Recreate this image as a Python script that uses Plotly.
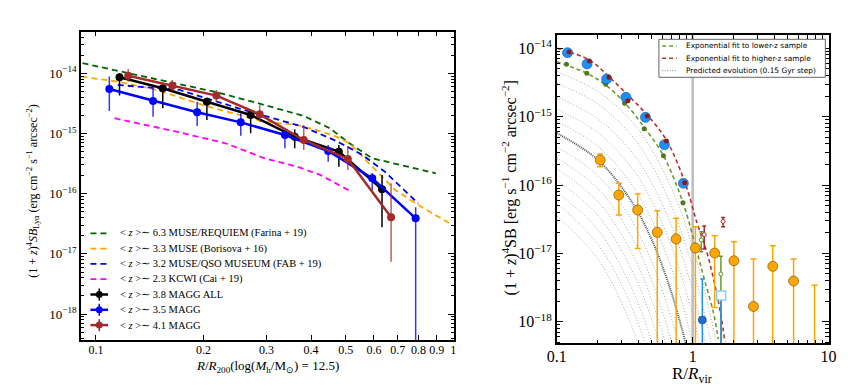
import plotly.graph_objects as go

# the page body adds an 8px margin, so the figure is drawn 8px smaller and shifted
OFF = 8
W, H = 863 - OFF, 388 - OFF

# ---------------- left panel: Lya SB profiles vs R/R200 ----------------
farina_r = [0.0917, 0.1151, 0.2204, 0.2965, 0.3816, 0.4515, 0.5124, 0.5934, 0.7171, 0.894]
farina_sb = [1.47e-14, 1.09e-14, 4.76e-15, 2.97e-15, 1.95e-15, 1.22e-15, 6.87e-16, 3.87e-16, 3.00e-16, 2.18e-16]

borisova_r = [0.0911, 0.1151, 0.1482, 0.2031, 0.2965, 0.366, 0.415, 0.471, 0.5124, 0.557, 0.619, 0.688, 0.813, 0.995]
borisova_sb = [8.78e-15, 7.25e-15, 5.28e-15, 2.86e-15, 1.57e-15, 1.38e-15, 1.14e-15, 8.85e-16, 6.87e-16,
               4.12e-16, 2.18e-16, 1.15e-16, 6.08e-17, 3.02e-17]

fab_r = [0.1151, 0.1715, 0.2505, 0.3816, 0.471, 0.557, 0.645, 0.797]
fab_sb = [6.39e-15, 5.28e-15, 2.62e-15, 1.28e-15, 7.50e-16, 4.40e-16, 2.29e-16, 6.92e-17]

cai_r = [0.1127, 0.168, 0.2304, 0.2965, 0.366, 0.424, 0.5124]
cai_sb = [1.79e-15, 1.07e-15, 6.87e-16, 3.87e-16, 2.81e-16, 2.05e-16, 1.12e-16]

magg_all_r = [0.1164, 0.1538, 0.2044, 0.271, 0.360, 0.4786, 0.632]
magg_all_sb = [8.59e-15, 5.64e-15, 3.37e-15, 2.03e-15, 8.85e-16, 4.99e-16, 1.18e-16]
magg_all_hi = [1.0e-14, 6.3e-15, 3.85e-15, 2.30e-15, 1.17e-15, 6.44e-16, 2.05e-16]
magg_all_lo = [4.25e-15, 2.62e-15, 1.67e-15, 1.01e-15, 5.68e-16, 2.81e-16, 2.77e-17]

magg_lo_r = [0.109, 0.1445, 0.192, 0.2543, 0.338, 0.4467, 0.5934, 0.785]
magg_lo_sb = [5.48e-15, 3.47e-15, 2.25e-15, 1.53e-15, 9.44e-16, 5.12e-16, 1.80e-16, 3.90e-17]
magg_lo_hi = [8.79e-15, 5.64e-15, 3.37e-15, 2.17e-15, 1.14e-15, 6.44e-16, 2.21e-16, 5.94e-17]
magg_lo_lo = [2.37e-15, 1.90e-15, 1.33e-15, 9.19e-16, 5.68e-16, 3.40e-16, 1.15e-16, 0.0]

magg_hi_r = [0.1231, 0.1636, 0.2173, 0.2873, 0.3816, 0.507, 0.670]
magg_hi_sb = [9.12e-15, 6.22e-15, 4.25e-15, 2.08e-15, 7.80e-16, 3.77e-16, 4.06e-17]
magg_hi_hi = [1.18e-14, 7.74e-15, 5.28e-15, 2.97e-15, 1.38e-15, 6.19e-16, 1.49e-16]
magg_hi_lo = [7.25e-15, 5.08e-15, 3.37e-15, 1.57e-15, 5.32e-16, 2.48e-16, 7.41e-18]

left_labels = [
    "< <i>z</i> >∼ 6.3 MUSE/REQUIEM (Farina + 19)",
    "< <i>z</i> >∼ 3.3 MUSE (Borisova + 16)",
    "< <i>z</i> >∼ 3.2 MUSE/QSO MUSEUM (FAB + 19)",
    "< <i>z</i> >∼ 2.3 KCWI (Cai + 19)",
    "< <i>z</i> >∼ 3.8 MAGG ALL",
    "< <i>z</i> >∼ 3.5 MAGG",
    "< <i>z</i> >∼ 4.1 MAGG",
]
left_xticks = [0.1, 0.2, 0.3, 0.4, 0.5, 0.6, 0.7, 0.8, 0.9, 1.0]
left_xtick_text = ["0.1", "0.2", "0.3", "0.4", "0.5", "0.6", "0.7", "0.8", "0.9", "1"]

# ---------------- right panel: SB vs R/Rvir ----------------
stack_r = [0.1200, 0.1672, 0.2330, 0.3229, 0.4498, 0.6197, 0.855]
stack_sb = [8.62e-15, 5.89e-15, 3.56e-15, 1.92e-15, 9.77e-16, 3.89e-16, 1.06e-16]

hiz_r = [0.1234, 0.1739, 0.2424, 0.334, 0.463, 0.6408, 0.8735]
hiz_sb = [8.83e-15, 6.52e-15, 3.77e-15, 1.71e-15, 1.02e-15, 4.41e-16, 1.08e-16]

loz_r = [0.118, 0.1665, 0.2291, 0.3161, 0.4403, 0.6095, 0.849]
loz_sb = [5.83e-15, 4.31e-15, 2.97e-15, 1.57e-15, 6.67e-16, 2.69e-16, 5.51e-17]

green_fit_r = [0.1, 0.1665, 0.2291, 0.3161, 0.4403, 0.6095, 0.849, 1.079, 1.217, 1.421, 1.543]
green_fit_sb = [6.37e-15, 4.31e-15, 2.90e-15, 1.60e-15, 6.98e-16, 2.69e-16, 5.51e-17, 1.03e-17,
                4.21e-18, 1.37e-18, 5.57e-19]
red_fit_r = [0.1, 0.1739, 0.2424, 0.334, 0.4705, 0.6408, 0.8735, 1.079, 1.273, 1.461, 1.633, 1.725]
red_fit_sb = [1.0e-14, 6.75e-15, 3.84e-15, 2.07e-15, 1.02e-15, 4.55e-16, 1.12e-16, 2.75e-17,
              1.03e-17, 3.37e-18, 1.09e-18, 5.04e-19]

# predicted evolution curves, log10 SB read at these radii
evo_r = [0.1, 0.2, 0.35, 0.5, 0.7, 0.9, 1.1, 1.3, 1.5, 1.7]
evo_logsb = [
    [-14.34, -14.63, -15.05, -15.48, -16.05, -16.62, -17.19, -17.76, -18.33, -18.90],
    [-14.51, -14.81, -15.26, -15.71, -16.31, -16.91, -17.51, -18.11, -18.71],
    [-14.71, -15.03, -15.50, -15.97, -16.60, -17.23, -17.86, -18.49],
    [-14.89, -15.23, -15.73, -16.23, -16.90, -17.57, -18.24, -18.91],
    [-15.07, -15.43, -15.97, -16.51, -17.23, -17.95, -18.67],
    [-15.24, -15.63, -16.22, -16.80, -17.58, -18.36],
    [-15.44, -15.86, -16.49, -17.12, -17.96, -18.80],
    [-15.60, -16.05, -16.73, -17.40, -18.30, -19.20],
    [-15.76, -16.24, -16.96, -17.68, -18.64],
    [-15.93, -16.44, -17.21, -17.97, -18.99],
    [-16.10, -16.65, -17.48, -18.30, -19.40],
    [-16.27, -16.86, -17.75, -18.63],
    [-16.45, -17.08, -18.03, -18.97],
]
evo_dark = 5

cgm_r = [0.2088, 0.2862, 0.394, 0.549, 0.756, 1.048, 1.453, 2.012, 2.804, 3.886, 5.53, 7.89]
cgm_sb = [2.32e-16, 7.14e-17, 4.31e-17, 2.03e-17, 1.62e-17, 1.20e-17, 1.01e-17, 7.80e-18,
          1.67e-18, 6.45e-18, 3.94e-18, 1e-20]
cgm_hi = [2.84e-16, 1.06e-16, 7.38e-17, 4.21e-17, 3.26e-17, 2.45e-17, 1.81e-17, 1.48e-17,
          8.26e-18, 1.29e-17, 8.26e-18, 3.42e-18]
cgm_lo = [1.85e-16, 3.64e-17, 1.18e-17, 0, 0, 0, 1.62e-18, 0, 0, 0, 0, 0]

out_green_r = [1.158, 1.614]
out_green_sb = [1.57e-17, 4.99e-18]
out_green_hi = [2.07e-17, 9.04e-18]
out_green_lo = [1.06e-17, 0]
out_red_r = [1.217, 1.676]
out_red_sb = [1.88e-17, 2.93e-17]
out_red_hi = [2.51e-17, 3.36e-17]
out_red_lo = [1.16e-17, 2.45e-17]
out_blue_r = [1.178]
out_blue_sb = [1.06e-18]
out_blue_hi = [4.22e-18]
out_blue_lo = [0]
out_sq_r = [1.62]
out_sq_sb = [2.42e-18]

right_legend = [
    ("Exponential fit to lower-z sample", "#6b9a2a", "4px,3px"),
    ("Exponential fit to higher-z sample", "#b8312f", "4px,3px"),
    ("Predicted evolution (0.15 Gyr step)", "#999999", "1px,1.5px"),
]


def err(sb, hi, lo):
    plus = [h - s for s, h in zip(sb, hi)]
    minus = [s - l for s, l in zip(sb, lo)]
    return dict(type="data", symmetric=False, array=plus, arrayminus=minus)


# window pixel -> paper fraction
def px(x):
    return (x - OFF) / W


def py(y):
    return 1 - (y - OFF) / H


fig = go.Figure()

# left dashed literature profiles
for r, sb, col in [(farina_r, farina_sb, "#006400"), (borisova_r, borisova_sb, "#ffa500"),
                   (fab_r, fab_sb, "#0000ff"), (cai_r, cai_sb, "#ff00ff")]:
    fig.add_trace(go.Scatter(x=r, y=sb, mode="lines", xaxis="x", yaxis="y",
                             line=dict(color=col, width=1.8, dash="6px,4px")))

for r, sb, hi, lo, col, ecol in [
    (magg_all_r, magg_all_sb, magg_all_hi, magg_all_lo, "#000000", "#000000"),
    (magg_lo_r, magg_lo_sb, magg_lo_hi, magg_lo_lo, "#0000ff", "rgba(0,0,255,0.8)"),
    (magg_hi_r, magg_hi_sb, magg_hi_hi, magg_hi_lo, "#a52a2a", "rgba(165,42,42,0.75)"),
]:
    e = err(sb, hi, lo)
    e.update(color=ecol, thickness=1.5, width=0)
    fig.add_trace(go.Scatter(x=r, y=sb, mode="lines+markers", xaxis="x", yaxis="y",
                             line=dict(color=col, width=2.5), marker=dict(color=col, size=8),
                             error_y=e))

# right panel
for i, curve in enumerate(evo_logsb):
    dark = i == evo_dark
    fig.add_trace(go.Scatter(x=evo_r[:len(curve)], y=[10 ** v for v in curve], mode="lines",
                             xaxis="x2", yaxis="y2", line_shape="spline",
                             line=dict(color="#555555" if dark else "#a8a8a8",
                                       width=2 if dark else 1,
                                       dash="1px,1px" if dark else "1px,2px")))

fig.add_trace(go.Scatter(x=[1, 1], y=[1e-19, 1e-13], mode="lines", xaxis="x2", yaxis="y2",
                         line=dict(color="#bdbdbd", width=2.5)))

fig.add_trace(go.Scatter(x=green_fit_r, y=green_fit_sb, mode="lines", xaxis="x2", yaxis="y2",
                         line_shape="spline", line=dict(color="#6b9a2a", width=1.6, dash="4px,3px")))
fig.add_trace(go.Scatter(x=red_fit_r, y=red_fit_sb, mode="lines", xaxis="x2", yaxis="y2",
                         line_shape="spline", line=dict(color="#b8312f", width=1.6, dash="4px,3px")))

fig.add_trace(go.Scatter(x=loz_r, y=loz_sb, mode="markers", xaxis="x2", yaxis="y2",
                         marker=dict(color="#4f7a1f", size=5)))
fig.add_trace(go.Scatter(x=stack_r, y=stack_sb, mode="markers", xaxis="x2", yaxis="y2",
                         marker=dict(color="#1e8fff", size=10, line=dict(color="#1a4f8a", width=0.6))))
fig.add_trace(go.Scatter(x=hiz_r, y=hiz_sb, mode="markers", xaxis="x2", yaxis="y2",
                         marker=dict(color="#8b1a1a", size=5)))

e = err(cgm_sb, cgm_hi, cgm_lo)
e.update(color="#ffa500", thickness=1.5, width=3)
fig.add_trace(go.Scatter(x=cgm_r, y=cgm_sb, mode="markers", xaxis="x2", yaxis="y2",
                         marker=dict(color="#ffa500", size=10, line=dict(color="#6b4a00", width=0.6)),
                         error_y=e))

e = err(out_green_sb, out_green_hi, out_green_lo)
e.update(color="#6b9a2a", thickness=1.5, width=2)
fig.add_trace(go.Scatter(x=out_green_r, y=out_green_sb, mode="markers", xaxis="x2", yaxis="y2",
                         marker=dict(color="white", size=4, line=dict(color="#6b9a2a", width=1)),
                         error_y=e))
e = err(out_red_sb, out_red_hi, out_red_lo)
e.update(color="#a52a2a", thickness=1.5, width=2)
fig.add_trace(go.Scatter(x=out_red_r, y=out_red_sb, mode="markers", xaxis="x2", yaxis="y2",
                         marker=dict(color="white", size=4, line=dict(color="#a52a2a", width=1)),
                         error_y=e))
e = err(out_blue_sb, out_blue_hi, out_blue_lo)
e.update(color="#1e8fff", thickness=1.5, width=2)
fig.add_trace(go.Scatter(x=out_blue_r, y=out_blue_sb, mode="markers", xaxis="x2", yaxis="y2",
                         marker=dict(color="#1e6fd0", size=8, line=dict(color="#123f80", width=0.6)),
                         error_y=e))
fig.add_trace(go.Scatter(x=out_sq_r, y=out_sq_sb, mode="markers", xaxis="x2", yaxis="y2",
                         marker=dict(color="white", size=9, symbol="square",
                                     line=dict(color="#87cefa", width=1.5)),
                         error_y=dict(type="data", symmetric=False, array=[0], arrayminus=out_sq_sb,
                                      color="#1e8fff", thickness=1.5, width=0)))

# ---------------- axes ----------------
def decade_text(e):
    return "10<sup>−%d</sup>" % e

left_yticks = [10.0 ** -e for e in (18, 17, 16, 15, 14)]
minor_y = [m * 10.0 ** -e for e in (19, 18, 17, 16, 15, 14) for m in range(2, 10)]
minor_x2 = [m * 10.0 ** e for e in (-1, 0) for m in range(2, 10)]

common = dict(showgrid=False, zeroline=False, showline=True, linecolor="black", mirror="allticks",
              ticks="inside", tickcolor="black")

fig.update_layout(
    width=W, height=H, margin=dict(l=0, r=0, t=0, b=0),
    paper_bgcolor="white", plot_bgcolor="white", showlegend=False,
    font=dict(family="Liberation Serif", color="black"),
    xaxis=dict(type="log", domain=[px(72.3), px(453.3)], range=[-1.042, 0.002],
               tickvals=left_xticks, ticktext=left_xtick_text, ticklen=5, tickwidth=1,
               ticklabelstandoff=-2,
               linewidth=1.5, tickfont=dict(size=12), anchor="y", **common),
    yaxis=dict(type="log", domain=[py(340), py(31.7)], range=[-18.43, -13.31],
               tickvals=left_yticks, ticktext=[decade_text(e) for e in (18, 17, 16, 15, 14)],
               ticklen=6, tickwidth=1, linewidth=1.5, tickfont=dict(size=13), anchor="x",
               minor=dict(tickvals=minor_y, ticks="inside", ticklen=3, tickcolor="black"), **common),
    xaxis2=dict(type="log", domain=[px(558.3), px(836)], range=[-1, 1],
                tickvals=[0.1, 1, 10], ticktext=["0.1", "1", "10"], ticklen=7, tickwidth=1.2,
                ticklabelstandoff=-2,
                linewidth=1.5, tickfont=dict(size=16), anchor="y2",
                minor=dict(tickvals=minor_x2, ticks="inside", ticklen=4, tickcolor="black"), **common),
    yaxis2=dict(type="log", domain=[py(343.3), py(35)], range=[-18.316, -13.805],
                tickvals=left_yticks, ticktext=[decade_text(e) for e in (18, 17, 16, 15, 14)],
                ticklen=7, tickwidth=1.2, linewidth=1.5, tickfont=dict(size=16), anchor="x2",
                minor=dict(tickvals=minor_y, ticks="inside", ticklen=4, tickcolor="black"), **common),
)

ann = []
title_pos = dict(xref="paper", yref="paper", showarrow=False, xanchor="center", yanchor="middle")
ann.append(dict(x=px(23), y=py(191), textangle=-90, font=dict(size=12), **title_pos,
                text="(1 + <i>z</i>)<sup>4</sup><i>SB</i><sub>Lyα</sub> (erg cm<sup>−2</sup> s<sup>−1</sup> arcsec<sup>−2</sup>)"))
ann.append(dict(x=px(263), y=py(366), font=dict(size=13), **title_pos,
                text="<i>R</i>/<i>R</i><sub>200</sub>(log(<i>M</i><sub>h</sub>/M<sub>⊙</sub>) = 12.5)"))
ann.append(dict(x=px(511), y=py(188), textangle=-90, font=dict(size=16), **title_pos,
                text="(1 + <i>z</i>)<sup>4</sup>SB [erg s<sup>−1</sup> cm<sup>−2</sup> arcsec<sup>−2</sup>]"))
ann.append(dict(x=px(697), y=py(375), font=dict(size=17), **title_pos,
                text="R/<i>R</i><sub>vir</sub>"))

shapes = []
# left legend (no frame)
left_styles = [("#006400", "6px,4px", False), ("#ffa500", "6px,4px", False), ("#0000ff", "6px,4px", False),
               ("#ff00ff", "6px,4px", False), ("#000000", "solid", True), ("#0000ff", "solid", True),
               ("#a52a2a", "solid", True)]
for i, (label, (col, dash, mk)) in enumerate(zip(left_labels, left_styles)):
    yc = 233.3 + i * 15.3
    shapes.append(dict(type="line", xref="paper", yref="paper", x0=px(82), x1=px(100), y0=py(yc), y1=py(yc),
                       line=dict(color=col, width=2.5 if mk else 1.8, dash=dash)))
    if mk:
        shapes.append(dict(type="line", xref="paper", yref="paper", x0=px(91), x1=px(91),
                           y0=py(yc - 6), y1=py(yc + 6), line=dict(color=col, width=1.5)))
        shapes.append(dict(type="circle", xref="paper", yref="paper", x0=px(87.5), x1=px(94.5),
                           y0=py(yc + 3.5), y1=py(yc - 3.5), fillcolor=col, line=dict(color=col, width=0)))
    ann.append(dict(x=px(110), y=py(yc), xref="paper", yref="paper", xanchor="left", yanchor="middle",
                    showarrow=False, text=label, font=dict(size=10.5)))

# right legend box
shapes.append(dict(type="rect", xref="paper", yref="paper", x0=px(662.7), x1=px(832.7), y0=py(77.3), y1=py(39.3),
                   fillcolor="white", line=dict(color="#666666", width=1), layer="above"))
for i, (label, col, dash) in enumerate(right_legend):
    yc = 46 + i * 12.3
    shapes.append(dict(type="line", xref="paper", yref="paper", x0=px(666), x1=px(681), y0=py(yc), y1=py(yc),
                       line=dict(color=col, width=1.6 if i < 2 else 1.2, dash=dash), layer="above"))
    ann.append(dict(x=px(688), y=py(yc), xref="paper", yref="paper", xanchor="left", yanchor="middle",
                    showarrow=False, text=label, font=dict(size=7.4, family="DejaVu Sans")))

fig.update_layout(annotations=ann, shapes=shapes)
fig.write_html("out.html")
